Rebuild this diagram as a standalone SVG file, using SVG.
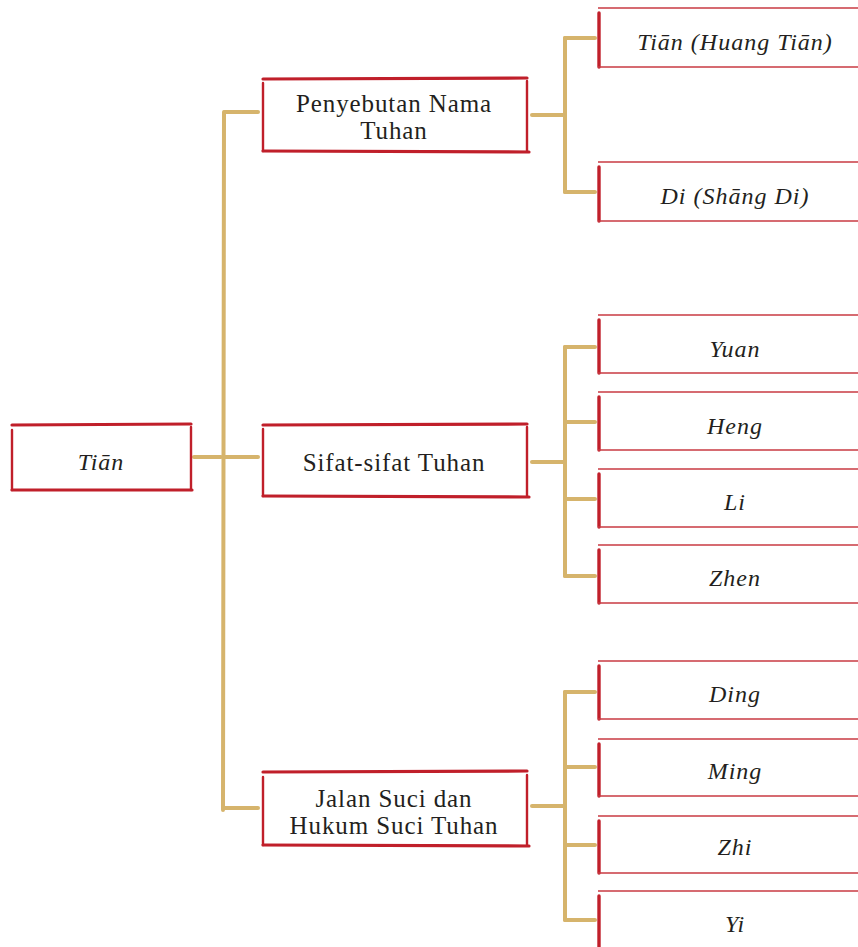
<svg xmlns="http://www.w3.org/2000/svg" width="858" height="947" viewBox="0 0 858 947">
<style>
.bg{fill:#ffffff}
.h{stroke:#c01f2a;stroke-width:3.2;stroke-linecap:round;fill:none}
.v{stroke:#c01f2a;stroke-width:2.4;stroke-linecap:round;fill:none}
.lt{stroke:#c83a42;stroke-width:1.6;fill:none}
.lv{stroke:#c01f2a;stroke-width:3.4;stroke-linecap:round;fill:none}
.c{stroke:#d6b46c;stroke-width:4;stroke-linecap:round;fill:none}
text{font-family:"Liberation Serif","Times New Roman",serif;font-size:25px;fill:#231f20;text-anchor:middle;letter-spacing:0.9px}
.i{font-style:italic;font-size:24px;letter-spacing:1px}
</style>
<rect class="bg" x="0" y="0" width="858" height="947"/>
<g id="connectors">
<path class="c" d="M224 112 L223 810"/>
<path class="c" d="M194 457 L221 457"/>
<path class="c" d="M225 112 L258 112"/>
<path class="c" d="M225 457 L258 457"/>
<path class="c" d="M225 808 L258 808"/>
<path class="c" d="M565 38 L565 192"/>
<path class="c" d="M532 115 L563 115"/>
<path class="c" d="M565 38 L595 38"/>
<path class="c" d="M565 192 L595 192"/>
<path class="c" d="M565 347 L565 576"/>
<path class="c" d="M532 462 L563 462"/>
<path class="c" d="M565 347 L595 347"/>
<path class="c" d="M565 422 L595 422"/>
<path class="c" d="M565 499 L595 499"/>
<path class="c" d="M565 576 L595 576"/>
<path class="c" d="M565 692 L565 920"/>
<path class="c" d="M532 806 L563 806"/>
<path class="c" d="M565 692 L595 692"/>
<path class="c" d="M565 767 L595 767"/>
<path class="c" d="M565 845 L595 845"/>
<path class="c" d="M565 920 L595 920"/>
</g>
<g id="tian">
<path class="h" d="M12 425 L191 424"/>
<path class="v" d="M12 430 L12 490"/>
<path class="v" d="M191 427 L191 490"/>
<path class="h" d="M12 490 L192 490"/>
<text class="i" x="101" y="470">Tiān</text>
</g>
<g id="penyebutan">
<path class="h" d="M263 79 L527 78"/>
<path class="v" d="M263 83 L263 151"/>
<path class="v" d="M527 81 L527 151"/>
<path class="h" d="M263 151 L529 152"/>
<text x="394" y="112">Penyebutan Nama</text>
<text x="394" y="139">Tuhan</text>
</g>
<g id="sifat">
<path class="h" d="M263 425 L527 424"/>
<path class="v" d="M263 429 L263 496"/>
<path class="v" d="M527 427 L527 496"/>
<path class="h" d="M263 496 L529 497"/>
<text x="394" y="471">Sifat-sifat Tuhan</text>
</g>
<g id="jalan">
<path class="h" d="M263 772 L527 771"/>
<path class="v" d="M263 777 L263 845"/>
<path class="v" d="M527 775 L527 845"/>
<path class="h" d="M263 845 L529 846"/>
<text x="394" y="807">Jalan Suci dan</text>
<text x="394" y="834">Hukum Suci Tuhan</text>
</g>
<g id="huang-tian">
<path class="lt" d="M598 8 L858 8"/>
<path class="lv" d="M599 13 L599 67"/>
<path class="lt" d="M598 67 L858 67"/>
<text class="i" x="735" y="50">Tiān (Huang Tiān)</text>
</g>
<g id="shang-di">
<path class="lt" d="M598 162 L858 162"/>
<path class="lv" d="M599 167 L599 221"/>
<path class="lt" d="M598 221 L858 221"/>
<text class="i" x="735" y="204">Di (Shāng Di)</text>
</g>
<g id="yuan">
<path class="lt" d="M598 315 L858 315"/>
<path class="lv" d="M599 320 L599 373"/>
<path class="lt" d="M598 373 L858 373"/>
<text class="i" x="735" y="357">Yuan</text>
</g>
<g id="heng">
<path class="lt" d="M598 392 L858 392"/>
<path class="lv" d="M599 397 L599 450"/>
<path class="lt" d="M598 450 L858 450"/>
<text class="i" x="735" y="434">Heng</text>
</g>
<g id="li">
<path class="lt" d="M598 469 L858 469"/>
<path class="lv" d="M599 474 L599 527"/>
<path class="lt" d="M598 527 L858 527"/>
<text class="i" x="735" y="510">Li</text>
</g>
<g id="zhen">
<path class="lt" d="M598 545 L858 545"/>
<path class="lv" d="M599 550 L599 603"/>
<path class="lt" d="M598 603 L858 603"/>
<text class="i" x="735" y="586">Zhen</text>
</g>
<g id="ding">
<path class="lt" d="M598 661 L858 661"/>
<path class="lv" d="M599 666 L599 719"/>
<path class="lt" d="M598 719 L858 719"/>
<text class="i" x="735" y="702">Ding</text>
</g>
<g id="ming">
<path class="lt" d="M598 739 L858 739"/>
<path class="lv" d="M599 744 L599 796"/>
<path class="lt" d="M598 796 L858 796"/>
<text class="i" x="735" y="779">Ming</text>
</g>
<g id="zhi">
<path class="lt" d="M598 816 L858 816"/>
<path class="lv" d="M599 821 L599 873"/>
<path class="lt" d="M598 873 L858 873"/>
<text class="i" x="735" y="855">Zhi</text>
</g>
<g id="yi">
<path class="lt" d="M598 891 L858 891"/>
<path class="lv" d="M599 896 L599 947"/>
<text class="i" x="735" y="932">Yi</text>
</g>
</svg>
